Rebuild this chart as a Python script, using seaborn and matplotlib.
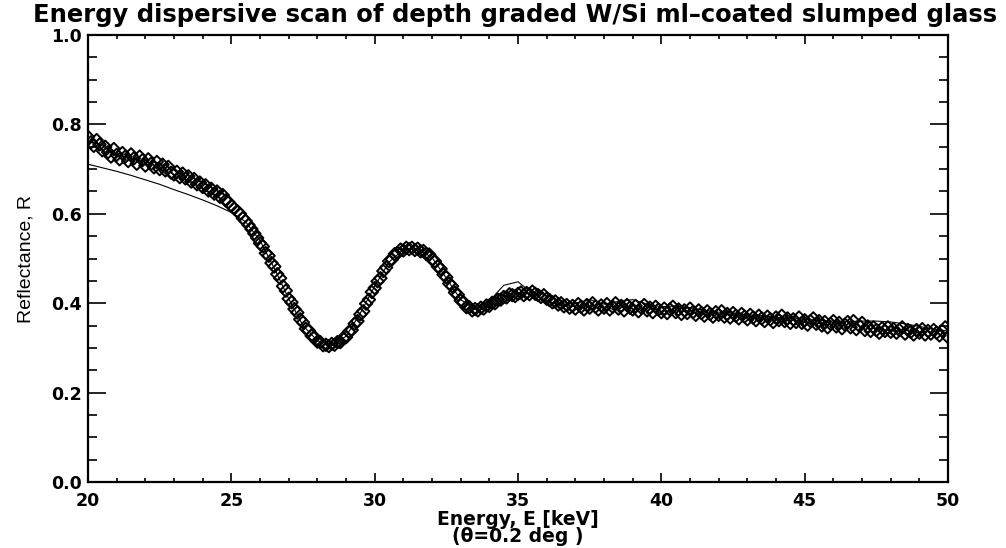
import numpy as np
import pandas as pd
import matplotlib
matplotlib.use("Agg")
import matplotlib.pyplot as plt
import seaborn as sns
from matplotlib.ticker import MultipleLocator

# ---- measured data (reflectance vs energy, keV) ----
energy = [
    20.0, 20.1, 20.2, 20.3, 20.4, 20.5, 20.6, 20.7, 20.8, 20.9,
    21.0, 21.1, 21.2, 21.3, 21.4, 21.5, 21.6, 21.7, 21.8, 21.9,
    22.0, 22.1, 22.2, 22.3, 22.4, 22.5, 22.6, 22.7, 22.8, 22.9,
    23.0, 23.1, 23.2, 23.3, 23.4, 23.5, 23.6, 23.7, 23.8, 23.9,
    24.0, 24.1, 24.2, 24.3, 24.4, 24.5, 24.6, 24.7, 24.8, 24.9,
    25.0, 25.1, 25.2, 25.3, 25.4, 25.5, 25.6, 25.7, 25.8, 25.9,
    26.0, 26.1, 26.2, 26.3, 26.4, 26.5, 26.6, 26.7, 26.8, 26.9,
    27.0, 27.1, 27.2, 27.3, 27.4, 27.5, 27.6, 27.7, 27.8, 27.9,
    28.0, 28.1, 28.2, 28.3, 28.4, 28.5, 28.6, 28.7, 28.8, 28.9,
    29.0, 29.1, 29.2, 29.3, 29.4, 29.5, 29.6, 29.7, 29.8, 29.9,
    30.0, 30.1, 30.2, 30.3, 30.4, 30.5, 30.6, 30.7, 30.8, 30.9,
    31.0, 31.1, 31.2, 31.3, 31.4, 31.5, 31.6, 31.7, 31.8, 31.9,
    32.0, 32.1, 32.2, 32.3, 32.4, 32.5, 32.6, 32.7, 32.8, 32.9,
    33.0, 33.1, 33.2, 33.3, 33.4, 33.5, 33.6, 33.7, 33.8, 33.9,
    34.0, 34.1, 34.2, 34.3, 34.4, 34.5, 34.6, 34.7, 34.8, 34.9,
    35.0, 35.1, 35.2, 35.3, 35.4, 35.5, 35.6, 35.7, 35.8, 35.9,
    36.0, 36.1, 36.2, 36.3, 36.4, 36.5, 36.6, 36.7, 36.8, 36.9,
    37.0, 37.1, 37.2, 37.3, 37.4, 37.5, 37.6, 37.7, 37.8, 37.9,
    38.0, 38.1, 38.2, 38.3, 38.4, 38.5, 38.6, 38.7, 38.8, 38.9,
    39.0, 39.1, 39.2, 39.3, 39.4, 39.5, 39.6, 39.7, 39.8, 39.9,
    40.0, 40.1, 40.2, 40.3, 40.4, 40.5, 40.6, 40.7, 40.8, 40.9,
    41.0, 41.1, 41.2, 41.3, 41.4, 41.5, 41.6, 41.7, 41.8, 41.9,
    42.0, 42.1, 42.2, 42.3, 42.4, 42.5, 42.6, 42.7, 42.8, 42.9,
    43.0, 43.1, 43.2, 43.3, 43.4, 43.5, 43.6, 43.7, 43.8, 43.9,
    44.0, 44.1, 44.2, 44.3, 44.4, 44.5, 44.6, 44.7, 44.8, 44.9,
    45.0, 45.1, 45.2, 45.3, 45.4, 45.5, 45.6, 45.7, 45.8, 45.9,
    46.0, 46.1, 46.2, 46.3, 46.4, 46.5, 46.6, 46.7, 46.8, 46.9,
    47.0, 47.1, 47.2, 47.3, 47.4, 47.5, 47.6, 47.7, 47.8, 47.9,
    48.0, 48.1, 48.2, 48.3, 48.4, 48.5, 48.6, 48.7, 48.8, 48.9,
    49.0, 49.1, 49.2, 49.3, 49.4, 49.5, 49.6, 49.7, 49.8, 49.9,
    50.0]
reflectance = [
    0.772, 0.760, 0.752, 0.765, 0.755, 0.742, 0.750, 0.738, 0.728, 0.745,
    0.732, 0.722, 0.736, 0.728, 0.718, 0.733, 0.724, 0.712, 0.728, 0.720,
    0.708, 0.722, 0.712, 0.704, 0.716, 0.700, 0.710, 0.697, 0.705, 0.692,
    0.688, 0.694, 0.682, 0.690, 0.679, 0.684, 0.672, 0.678, 0.666, 0.670,
    0.660, 0.664, 0.652, 0.656, 0.645, 0.650, 0.638, 0.642, 0.630, 0.626,
    0.618, 0.612, 0.606, 0.600, 0.590, 0.584, 0.575, 0.566, 0.556, 0.546,
    0.534, 0.527, 0.512, 0.506, 0.490, 0.482, 0.465, 0.456, 0.438, 0.428,
    0.410, 0.402, 0.387, 0.379, 0.364, 0.357, 0.343, 0.339, 0.327, 0.324,
    0.314, 0.313, 0.306, 0.307, 0.304, 0.309, 0.307, 0.313, 0.313, 0.322,
    0.324, 0.336, 0.340, 0.354, 0.360, 0.375, 0.382, 0.399, 0.408, 0.425,
    0.434, 0.449, 0.456, 0.472, 0.480, 0.494, 0.498, 0.510, 0.512, 0.520,
    0.518, 0.524, 0.521, 0.524, 0.519, 0.522, 0.516, 0.517, 0.510, 0.509,
    0.498, 0.494, 0.482, 0.477, 0.464, 0.458, 0.444, 0.438, 0.424, 0.419,
    0.406, 0.402, 0.391, 0.391, 0.384, 0.387, 0.384, 0.390, 0.388, 0.395,
    0.394, 0.401, 0.400, 0.408, 0.408, 0.414, 0.413, 0.420, 0.418, 0.416,
    0.421, 0.424, 0.418, 0.423, 0.420, 0.426, 0.421, 0.418, 0.414, 0.418,
    0.410, 0.407, 0.402, 0.404, 0.397, 0.400, 0.393, 0.396, 0.390, 0.394,
    0.388, 0.398, 0.392, 0.386, 0.396, 0.390, 0.400, 0.392, 0.386, 0.395,
    0.390, 0.398, 0.386, 0.392, 0.400, 0.388, 0.394, 0.384, 0.396, 0.390,
    0.386, 0.394, 0.382, 0.390, 0.396, 0.384, 0.390, 0.380, 0.392, 0.386,
    0.380, 0.388, 0.378, 0.386, 0.392, 0.380, 0.386, 0.376, 0.384, 0.378,
    0.388, 0.380, 0.374, 0.384, 0.378, 0.372, 0.382, 0.376, 0.370, 0.380,
    0.374, 0.382, 0.370, 0.376, 0.368, 0.378, 0.372, 0.366, 0.376, 0.370,
    0.364, 0.374, 0.368, 0.362, 0.372, 0.366, 0.360, 0.370, 0.364, 0.358,
    0.368, 0.362, 0.372, 0.360, 0.366, 0.356, 0.364, 0.358, 0.368, 0.356,
    0.362, 0.352, 0.360, 0.366, 0.354, 0.360, 0.350, 0.358, 0.346, 0.354,
    0.360, 0.348, 0.356, 0.344, 0.352, 0.358, 0.346, 0.360, 0.342, 0.350,
    0.356, 0.340, 0.348, 0.338, 0.346, 0.340, 0.334, 0.344, 0.338, 0.346,
    0.336, 0.342, 0.334, 0.340, 0.346, 0.332, 0.340, 0.336, 0.330, 0.340,
    0.334, 0.342, 0.330, 0.338, 0.332, 0.340, 0.334, 0.328, 0.338, 0.346,
    0.324]

# ---- model fit ----
model_energy = [20.0, 20.5, 21.0, 21.5, 22.0, 22.5, 23.0, 23.5, 24.0, 24.5,
                25.0, 25.5, 26.0, 26.5, 27.0, 27.5, 28.0, 28.5, 29.0, 29.5,
                30.0, 30.5, 31.0, 31.5, 32.0, 32.5, 33.0, 33.5, 34.0, 34.5,
                35.0, 35.5, 36.0, 36.5, 37.0, 37.5, 38.0, 38.5, 39.0, 39.5,
                40.0, 40.5, 41.0, 41.5, 42.0, 42.5, 43.0, 43.5, 44.0, 44.5,
                45.0, 45.5, 46.0, 46.5, 47.0, 47.5, 48.0, 48.5, 49.0, 49.5,
                50.0]
model_reflectance = [0.711, 0.703, 0.695, 0.686, 0.676, 0.666, 0.654, 0.643, 0.631, 0.618,
                     0.603, 0.582, 0.540, 0.478, 0.410, 0.350, 0.316, 0.306, 0.326, 0.378,
                     0.438, 0.492, 0.520, 0.522, 0.502, 0.456, 0.408, 0.386, 0.405, 0.440,
                     0.448, 0.422, 0.405, 0.396, 0.400, 0.408, 0.398, 0.404, 0.408, 0.398,
                     0.392, 0.394, 0.390, 0.384, 0.380, 0.378, 0.374, 0.372, 0.369, 0.366,
                     0.364, 0.362, 0.360, 0.359, 0.360, 0.360, 0.358, 0.354, 0.348, 0.342,
                     0.338]

x_ticks = [20, 25, 30, 35, 40, 45, 50]
y_ticks = [0.0, 0.2, 0.4, 0.6, 0.8, 1.0]

data = pd.DataFrame({"E": energy, "R": reflectance})
model = pd.DataFrame({"E": model_energy, "R": model_reflectance})

sns.set_theme(style="ticks")
plt.rcParams["font.family"] = ["DejaVu Sans"]
plt.rcParams["text.color"] = "black"
plt.rcParams["axes.labelcolor"] = "black"
plt.rcParams["xtick.color"] = "black"
plt.rcParams["ytick.color"] = "black"

fig = plt.figure(figsize=(10.06, 5.48), dpi=100)
ax = fig.add_axes([0.0875, 0.1204, 0.8549, 0.8157])

sns.lineplot(data=model, x="E", y="R", ax=ax, color="black", linewidth=0.8,
             estimator=None, sort=False, zorder=3)
sns.scatterplot(data=data, x="E", y="R", ax=ax, marker="D", s=40,
                facecolors="none", edgecolor="black", linewidth=1.4, zorder=2)

ax.set_xlim(20, 50)
ax.set_ylim(0.0, 1.0)
ax.set_xticks(x_ticks)
ax.set_yticks(y_ticks)
ax.set_xticklabels([str(t) for t in x_ticks])
ax.set_yticklabels([f"{t:.1f}" for t in y_ticks])
ax.xaxis.set_minor_locator(MultipleLocator(1))
ax.yaxis.set_minor_locator(MultipleLocator(0.05))
ax.tick_params(which="both", direction="in", top=True, right=True,
               color="black", labelcolor="black", width=1.2)
ax.tick_params(axis="x", which="major", length=6.5, labelsize=12.5, pad=7)
ax.tick_params(axis="x", which="minor", length=3)
ax.tick_params(axis="y", which="major", length=13, labelsize=12.5, pad=4.5)
ax.tick_params(axis="y", which="minor", length=6.5)
for lab in ax.get_xticklabels() + ax.get_yticklabels():
    lab.set_fontweight("bold")
for sp in ax.spines.values():
    sp.set_linewidth(1.6)
    sp.set_color("black")
    sp.set_visible(True)

ax.set_xlabel("Energy, E [keV]\n(θ=0.2 deg )", fontsize=13.5, fontweight="bold",
              labelpad=0, linespacing=0.86, color="black")
ax.set_ylabel("Reflectance, R", fontsize=14, labelpad=12, color="black",
              family=["Liberation Sans", "DejaVu Sans"])
fig.text(0.512, 0.995,
         "Energy dispersive scan of depth graded W/Si ml\u2013coated slumped glass",
         fontsize=17.5, fontweight="bold", ha="center", va="top", color="black")

fig.savefig("out.png", dpi=100)
